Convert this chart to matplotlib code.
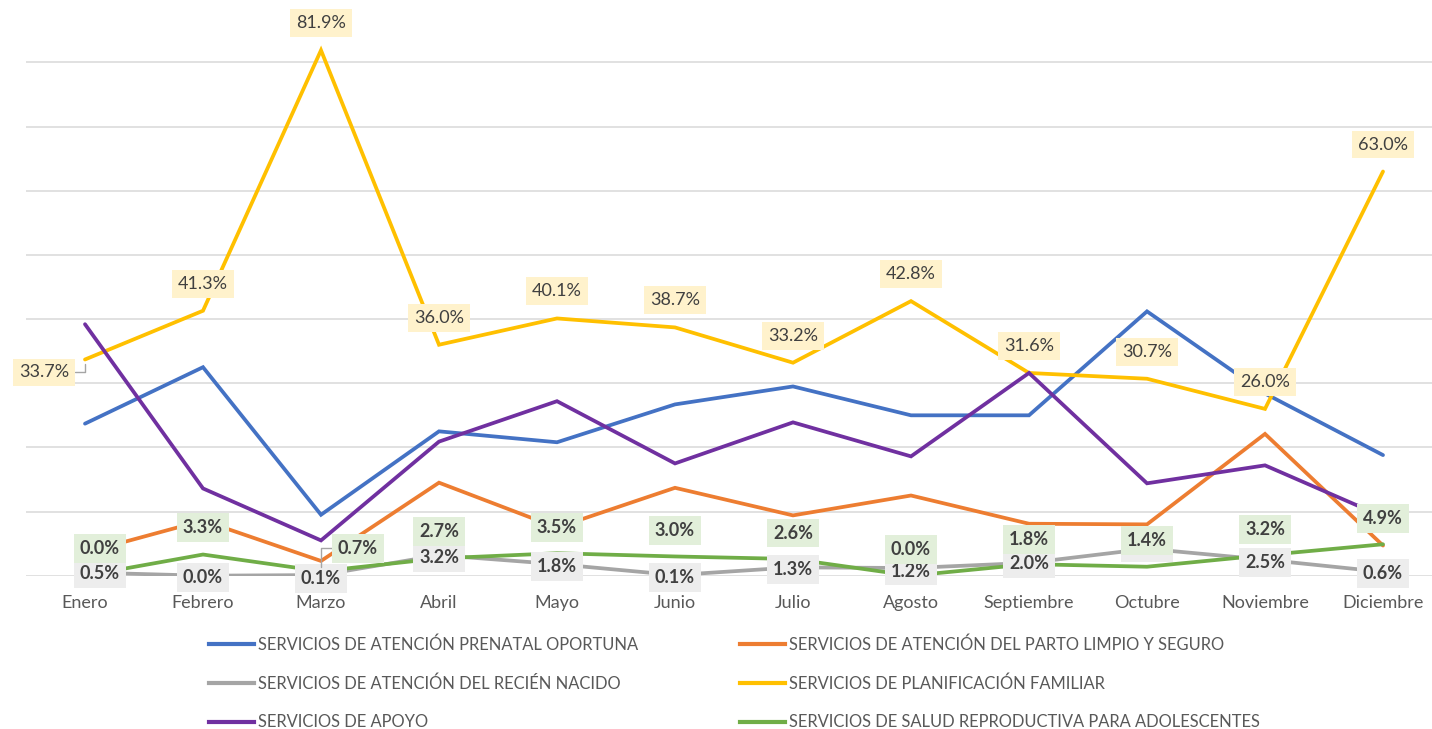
import matplotlib
matplotlib.use("Agg")
from matplotlib import pyplot as plt
from matplotlib.lines import Line2D

plt.rcParams['font.family'] = ['Lato', 'DejaVu Sans']

# data (percent)
months = ['Enero', 'Febrero', 'Marzo', 'Abril', 'Mayo', 'Junio', 'Julio',
          'Agosto', 'Septiembre', 'Octubre', 'Noviembre', 'Diciembre']
prenatal = [23.7, 32.5, 9.5, 22.5, 20.8, 26.7, 29.5, 25.0, 25.0, 41.2, 28.4, 18.8]
parto = [3.6, 8.6, 2.3, 14.5, 7.5, 13.7, 9.4, 12.5, 8.1, 8.0, 22.1, 4.7]
recien = [0.5, 0.0, 0.1, 3.2, 1.8, 0.1, 1.3, 1.2, 2.0, 4.2, 2.5, 0.6]
planif = [33.7, 41.3, 81.9, 36.0, 40.1, 38.7, 33.2, 42.8, 31.6, 30.7, 26.0, 63.0]
apoyo = [39.2, 13.6, 5.5, 20.9, 27.2, 17.5, 23.9, 18.6, 31.6, 14.4, 17.2, 9.2]
salud = [0.0, 3.3, 0.7, 2.7, 3.5, 3.0, 2.6, 0.0, 1.8, 1.4, 3.2, 4.9]

names = {
    'prenatal': 'SERVICIOS DE ATENCIÓN PRENATAL OPORTUNA',
    'parto': 'SERVICIOS DE ATENCIÓN DEL PARTO LIMPIO Y SEGURO',
    'recien': 'SERVICIOS DE ATENCIÓN DEL RECIÉN NACIDO',
    'planif': 'SERVICIOS DE PLANIFICACIÓN FAMILIAR',
    'apoyo': 'SERVICIOS DE APOYO',
    'salud': 'SERVICIOS DE SALUD REPRODUCTIVA PARA ADOLESCENTES',
}
colors = {'prenatal': '#4472C4', 'parto': '#ED7D31', 'recien': '#A5A5A5',
          'planif': '#FFC000', 'apoyo': '#7030A0', 'salud': '#70AD47'}

# label offsets in pixels (dx, dy)
planif_off = [(-41, -13)] + [(0, 27)] * 11
salud_off = [(15, 27), (0, 27), (37, 23), (0, 27), (0, 26), (0, 26), (0, 26),
             (0, 26), (0, 25), (0, 26), (0, 26), (0, 26)]
recien_off = [(15, -1), (0, -2), (0, -3), (0, -2), (0, -2), (0, -2), (0, -2),
              (0, -3), (0, -1), (0, 1), (0, -3), (0, -2)]

fig = plt.figure(figsize=(14.32, 7.29), dpi=100)
ax = fig.add_axes([26 / 1432, 1 - 575.7 / 729, 1416 / 1432, 577.4 / 729])

x = list(range(len(months)))
series = [('prenatal', prenatal), ('parto', parto), ('recien', recien),
          ('planif', planif), ('apoyo', apoyo), ('salud', salud)]
z = {'prenatal': 3, 'parto': 3, 'recien': 2, 'planif': 3, 'apoyo': 4, 'salud': 3}
for key, vals in series:
    ax.plot(x, vals, color=colors[key], lw=2.7, zorder=z[key],
            solid_joinstyle='miter', solid_capstyle='round')

ax.set_xlim(-0.5, 11.5)
ax.set_ylim(0, 90)
ax.set_yticks(range(0, 90, 10))
ax.yaxis.grid(True, color='#D9D9D9', lw=1.1)
ax.set_axisbelow(True)
for s in ax.spines.values():
    s.set_visible(False)
ax.tick_params(axis='y', left=False, labelleft=False)
ax.tick_params(axis='x', length=0, pad=14, labelsize=13, labelcolor='#595959')
ax.set_xticks(x)
ax.set_xticklabels(months)


def put_labels(vals, offs, face, weight, zo):
    for i, v in enumerate(vals):
        dx, dy = offs[i]
        kw = {}
        if abs(dx) > 20:
            kw['arrowprops'] = dict(arrowstyle='-', color='#A5A5A5', lw=1,
                                    shrinkA=0, shrinkB=3,
                                    connectionstyle='angle,angleA=0,angleB=90,rad=0')
        ax.annotate(f'{v:.1f}%', (i, v), xytext=(dx, dy), textcoords='offset pixels',
                    ha='center', va='center', fontsize=13, color='#404040',
                    fontweight=weight, zorder=zo, annotation_clip=False,
                    bbox=dict(boxstyle='square,pad=0.33', fc=face, ec='none'), **kw)


put_labels(recien, recien_off, '#EDEDED', 'bold', 6)
put_labels(salud, salud_off, '#E2EFDA', 'bold', 7)
put_labels(planif, planif_off, '#FFF2CC', 'normal', 8)

order = ['prenatal', 'recien', 'apoyo', 'parto', 'planif', 'salud']
handles = [Line2D([], [], color=colors[k], lw=3) for k in order]
fig.legend(handles, [names[k] for k in order], ncol=2, loc='upper left',
           bbox_to_anchor=(209 / 1432, 1 - 636.5 / 729), frameon=False,
           fontsize=11.9, labelcolor='#595959', handlelength=2.7,
           handletextpad=0.25, columnspacing=6.2, labelspacing=1.36,
           borderpad=0, borderaxespad=0)

fig.savefig('out.png', dpi=100)
